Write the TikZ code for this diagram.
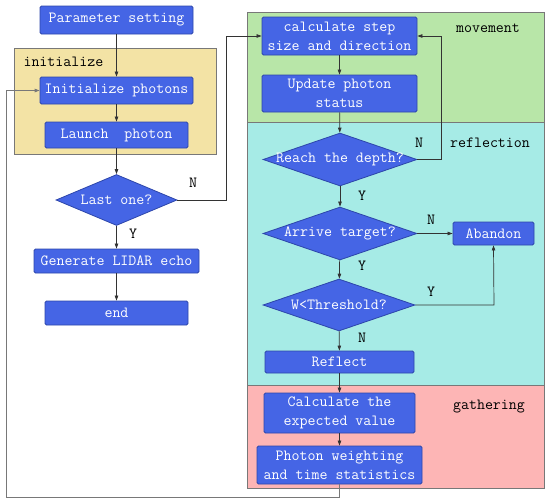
\documentclass[tikz,border=0pt]{standalone}
\usetikzlibrary{shapes.geometric,arrows.meta}
\definecolor{bblue}{RGB}{69,101,229}
\definecolor{bedge}{RGB}{45,70,170}
\definecolor{pyellow}{RGB}{243,227,165}
\definecolor{pgreen}{RGB}{184,230,168}
\definecolor{pcyan}{RGB}{166,235,230}
\definecolor{ppink}{RGB}{253,181,181}
\definecolor{lgray}{RGB}{120,120,120}
\tikzset{
  procbox/.style={draw=bedge, fill=bblue, text=white, rounded corners=1.5pt, line width=0.8pt,
    inner sep=0pt, align=center, font=\ttfamily\fontsize{15.5}{19}\selectfont},
  decbox/.style={draw=bedge, fill=bblue, diamond, inner sep=0pt, line width=0.8pt},
  dectext/.style={text=white, font=\ttfamily\fontsize{15.5}{19}\selectfont},
  panel/.style={draw=lgray, line width=0.8pt},
  lbl/.style={font=\ttfamily\fontsize{15.5}{16}\selectfont, text=black},
  flow/.style={draw=black!80, line width=0.7pt, -{Triangle[length=5pt,width=3.5pt]}},
  back/.style={draw=lgray, line width=1pt, -{Triangle[length=5pt,width=3.5pt]}}
}
\begin{document}
\begin{tikzpicture}[x=1pt,y=-1pt]
\useasboundingbox (0,0) rectangle (550,504);
% panels
\filldraw[panel, fill=pyellow] (14,48) rectangle (216,154);
\filldraw[panel, fill=pgreen] (247,12) rectangle (544,122);
\filldraw[panel, fill=pcyan] (247,122) rectangle (544,385);
\filldraw[panel, fill=ppink] (247,385) rectangle (544,488);
\node[lbl, anchor=west] (linit) at (20,62) {initialize};
\node[lbl] (lmove) at (488,28) {movement};
\node[lbl] (lrefl) at (490,143) {reflection};
\node[lbl] (lgath) at (489,407) {gathering};
% left column
\node[procbox, minimum width=153pt, minimum height=28pt] (ps) at (116.5,20) {Parameter setting};
\node[procbox, minimum width=153pt, minimum height=27pt] (ip) at (116.5,90.5) {Initialize photons};
\node[procbox, minimum width=143pt, minimum height=26pt] (lp) at (116.5,135) {Launch\ \ photon};
\node[decbox, minimum width=121pt, minimum height=51pt] (last) at (116.5,200) {};
\node[dectext] (lastt) at (last.center) {Last one?};
\node[procbox, minimum width=165pt, minimum height=24pt] (gen) at (116.5,261) {Generate LIDAR echo};
\node[procbox, minimum width=143pt, minimum height=24pt] (endn) at (116.5,313) {end};
% right column
\node[procbox, minimum width=155pt, minimum height=38pt] (calc) at (339.5,36) {calculate step\\size and direction};
\node[procbox, minimum width=155pt, minimum height=37pt] (upd) at (339.5,93.5) {Update photon\\status};
\node[decbox, minimum width=154pt, minimum height=53pt] (reach) at (340,159.5) {};
\node[dectext] (reacht) at (reach.center) {Reach the depth?};
\node[decbox, minimum width=154pt, minimum height=53pt] (arr) at (340,233.5) {};
\node[dectext] (arrt) at (arr.center) {Arrive target?};
\node[procbox, minimum width=81pt, minimum height=23pt] (ab) at (493.5,233.5) {Abandon};
\node[decbox, minimum width=152pt, minimum height=52pt] (wth) at (339,305) {};
\node[dectext] (wtht) at (wth.center) {W<Threshold?};
\node[procbox, minimum width=149pt, minimum height=22pt] (refl) at (339.5,362) {Reflect};
\node[procbox, minimum width=151pt, minimum height=40pt] (cexp) at (339.5,413) {Calculate the\\expected value};
\node[procbox, minimum width=165pt, minimum height=38pt] (phw) at (339.5,465) {Photon weighting\\and time statistics};
% coordinates
\coordinate (c1) at (226,200);
\coordinate (c2) at (226,36);
\coordinate (c3) at (441,159.5);
\coordinate (c4) at (441,36);
\coordinate (c5) at (494,305);
\coordinate (c6) at (339.5,497);
\coordinate (c7) at (6,497);
\coordinate (c8) at (6,90.5);
% flows
\draw[flow] (ps) -- (ip);
\draw[flow] (ip) -- (lp);
\draw[flow] (lp) -- (last);
\draw[flow] (last) -- (gen);
\draw[flow] (gen) -- (endn);
\draw[flow] (last.east) -- (c1) -- (c2) -- (calc.west);
\draw[flow] (calc) -- (upd);
\draw[flow] (upd) -- (reach);
\draw[flow] (reach.east) -- (c3) -- (c4) -- (calc.east);
\draw[flow] (reach) -- (arr);
\draw[flow] (arr) -- (ab);
\draw[flow] (arr) -- (wth);
\draw[flow] (wth.east) -- (c5) -- (ab.south);
\draw[flow] (wth) -- (refl);
\draw[flow] (refl) -- (cexp);
\draw[flow] (cexp) -- (phw);
\draw[back] (phw.south) -- (c6) -- (c7) -- (c8) -- (ip.west);
% branch labels
\node[lbl] (n1) at (193,183) {N};
\node[lbl] (y1) at (133,234) {Y};
\node[lbl] (n2) at (419,143) {N};
\node[lbl] (y2) at (362,196) {Y};
\node[lbl] (n3) at (431,220) {N};
\node[lbl] (y3) at (362,266) {Y};
\node[lbl] (y4) at (431,292) {Y};
\node[lbl] (n4) at (362,338) {N};
\end{tikzpicture}
\end{document}
